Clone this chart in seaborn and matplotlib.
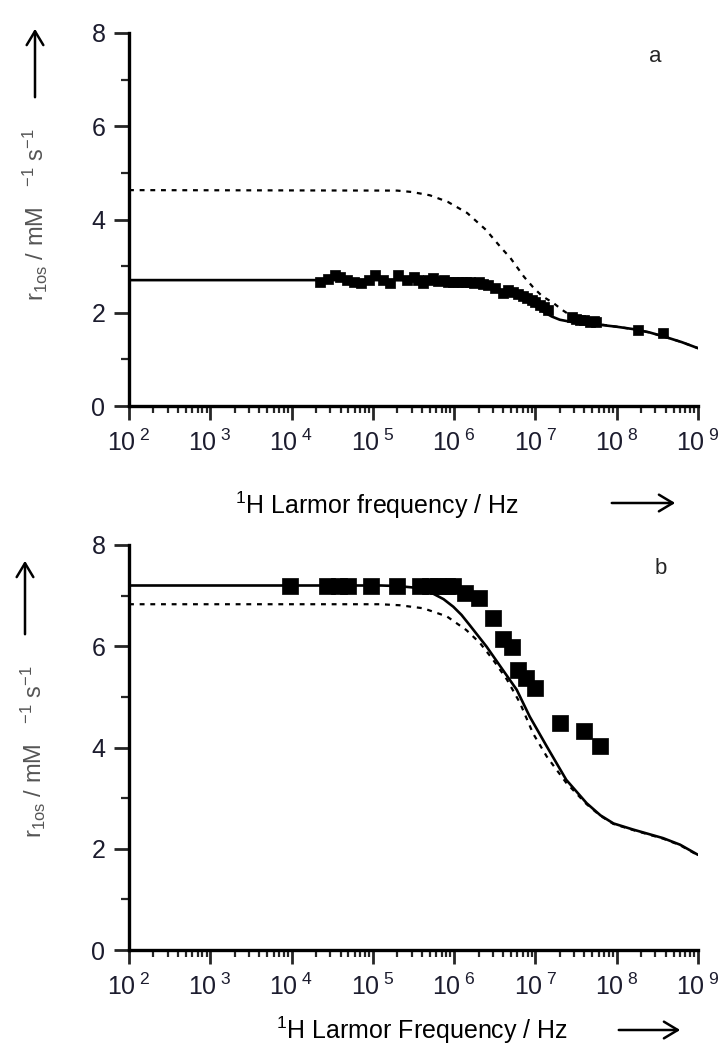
import numpy as np
import matplotlib
matplotlib.use("Agg")
import matplotlib.pyplot as plt
import matplotlib.ticker as mticker
import seaborn as sns

sns.set_style("ticks")
plt.rcParams["font.family"] = ["Liberation Sans", "DejaVu Sans"]
plt.rcParams["mathtext.fontset"] = "custom"
plt.rcParams["mathtext.rm"] = "Liberation Sans"
plt.rcParams["mathtext.it"] = "Liberation Sans"

# --- panel a: log10(frequency / Hz) and r1os (mM-1 s-1) ---
a_fit_logf = [2.0, 5.0, 6.1, 6.25, 6.35, 6.5, 6.7, 6.85, 7.0, 7.1, 7.2, 7.3,
              7.45, 7.6, 7.8, 8.0, 8.2, 8.4, 8.6, 8.8, 9.0]
a_fit_r = [2.70, 2.70, 2.69, 2.67, 2.63, 2.53, 2.40, 2.30, 2.14, 2.02, 1.92,
           1.85, 1.80, 1.77, 1.74, 1.70, 1.65, 1.58, 1.48, 1.37, 1.24]
a_sim_logf = [2.0, 5.3, 5.48, 5.7, 5.92, 6.16, 6.39, 6.59, 6.69, 6.86, 6.97,
              7.08, 7.22, 7.33, 7.45, 7.6, 7.8, 8.0, 8.2, 8.4, 8.6, 8.8, 9.0]
a_sim_r = [4.63, 4.62, 4.59, 4.52, 4.38, 4.14, 3.78, 3.37, 3.18, 2.77, 2.55,
           2.36, 2.21, 2.06, 1.92, 1.80, 1.75, 1.70, 1.65, 1.58, 1.48, 1.37, 1.24]
a_pts_logf = [4.35, 4.45, 4.53, 4.60, 4.68, 4.77, 4.86, 4.95, 5.03, 5.13, 5.21,
              5.31, 5.42, 5.50, 5.56, 5.62, 5.68, 5.74, 5.80, 5.87, 5.93, 5.99,
              6.05, 6.10, 6.15, 6.20, 6.25, 6.30, 6.35, 6.42, 6.50, 6.60, 6.66,
              6.72, 6.78, 6.85, 6.90, 6.96, 7.00, 7.06, 7.11, 7.16, 7.45, 7.50,
              7.55, 7.60, 7.67, 7.72, 7.75, 8.26, 8.57]
a_pts_r = [2.67, 2.72, 2.81, 2.76, 2.70, 2.66, 2.63, 2.70, 2.81, 2.70, 2.63,
           2.81, 2.70, 2.77, 2.70, 2.63, 2.70, 2.74, 2.68, 2.70, 2.66, 2.67,
           2.66, 2.67, 2.65, 2.66, 2.64, 2.66, 2.62, 2.60, 2.53, 2.42, 2.48,
           2.45, 2.40, 2.36, 2.32, 2.27, 2.24, 2.17, 2.12, 2.06, 1.91, 1.87,
           1.85, 1.84, 1.80, 1.82, 1.80, 1.63, 1.57]

# --- panel b ---
b_fit_logf = [2.0, 5.1, 5.3, 5.5, 5.62, 5.74, 5.87, 5.99, 6.09, 6.19, 6.40,
              6.60, 6.77, 6.93, 7.14, 7.38, 7.63, 7.80, 7.96, 8.20, 8.57, 8.78, 9.0]
b_fit_r = [7.20, 7.20, 7.19, 7.16, 7.11, 7.04, 6.93, 6.78, 6.62, 6.42, 5.99,
           5.53, 5.14, 4.61, 4.02, 3.36, 2.90, 2.66, 2.50, 2.38, 2.21, 2.08, 1.88]
b_sim_logf = [2.0, 5.09, 5.33, 5.62, 5.91, 6.15, 6.32, 6.48, 6.65, 6.81, 6.97,
              7.14, 7.38, 7.63, 7.80, 7.96, 8.20, 8.57, 8.78, 9.0]
b_sim_r = [6.83, 6.83, 6.81, 6.75, 6.59, 6.32, 6.06, 5.73, 5.34, 4.88, 4.28,
           3.82, 3.30, 2.88, 2.65, 2.49, 2.37, 2.20, 2.07, 1.87]
b_pts_logf = [3.98, 4.44, 4.58, 4.69, 4.98, 5.30, 5.58, 5.70, 5.80, 5.91, 5.99,
              6.13, 6.30, 6.48, 6.60, 6.71, 6.79, 6.89, 6.99, 7.30, 7.60, 7.79]
b_pts_r = [7.20, 7.20, 7.20, 7.20, 7.20, 7.20, 7.20, 7.20, 7.20, 7.20, 7.20,
           7.05, 6.95, 6.55, 6.14, 5.98, 5.53, 5.37, 5.17, 4.49, 4.33, 4.02]

x_ticks = [1e2, 1e3, 1e4, 1e5, 1e6, 1e7, 1e8, 1e9]
x_ticklabels = [r"$\mathregular{10^{\ %d}}$" % k for k in range(2, 10)]
y_ticks = [0, 2, 4, 6, 8]

W, H = 723, 1053
fig = plt.figure(figsize=(W / 100, H / 100), dpi=100)
ax_a = fig.add_axes([129 / W, 1 - 406 / H, 569 / W, 373 / H])
ax_b = fig.add_axes([129 / W, 1 - 950 / H, 569 / W, 405 / H])

ink = "#1c1c2e"


def draw_panel(ax, fit_lf, fit_r, sim_lf, sim_r, pts_lf, pts_r, msize):
    sns.lineplot(x=10 ** np.array(sim_lf), y=sim_r, ax=ax, color="black",
                 lw=1.6, linestyle=(0, (2.2, 2.6)), sort=False, estimator=None)
    sns.lineplot(x=10 ** np.array(fit_lf), y=fit_r, ax=ax, color="black",
                 lw=1.9, sort=False, estimator=None)
    sns.scatterplot(x=10 ** np.array(pts_lf), y=pts_r, ax=ax, marker="s",
                    s=msize, color="black", edgecolor="black", linewidth=0.5,
                    zorder=3)
    ax.set_xscale("log")
    ax.set_xlim(1e2, 1e9)
    ax.set_ylim(0, 8)
    ax.set_xticks(x_ticks)
    ax.set_xticklabels(x_ticklabels)
    ax.xaxis.set_minor_locator(mticker.LogLocator(base=10, subs=np.arange(2, 10), numticks=20))
    ax.xaxis.set_minor_formatter(mticker.NullFormatter())
    ax.set_yticks(y_ticks)
    ax.yaxis.set_minor_locator(mticker.MultipleLocator(1))
    sns.despine(ax=ax)
    for s in ["left", "bottom"]:
        ax.spines[s].set_linewidth(2.4)
        ax.spines[s].set_color("black")
    ax.tick_params(axis="x", which="major", direction="out", length=10, width=2,
                   pad=7, labelsize=18, labelcolor=ink)
    ax.tick_params(axis="x", which="minor", direction="out", length=5, width=1.6)
    ax.tick_params(axis="y", which="major", direction="out", length=11, width=2,
                   pad=6, labelsize=18, labelcolor=ink)
    ax.tick_params(axis="y", which="minor", direction="out", length=6, width=1.6)
    ax.set_xlabel("")
    ax.set_ylabel("")


draw_panel(ax_a, a_fit_logf, a_fit_r, a_sim_logf, a_sim_r, a_pts_logf, a_pts_r, 48)
draw_panel(ax_b, b_fit_logf, b_fit_r, b_sim_logf, b_sim_r, b_pts_logf, b_pts_r, 140)


def fx(px):
    return px / W


def fy(py):
    return 1 - py / H


ylab = r"r$_{\mathregular{1os}}$ / mM   $^{-1}$ s$^{-1}$"
fig.text(fx(35), fy(215), ylab, rotation=90, ha="center", va="center",
         fontsize=17, color="#555555")
fig.text(fx(33), fy(752), ylab, rotation=90, ha="center", va="center",
         fontsize=17, color="#555555")

fig.text(fx(377), fy(505), r"$^{1}$H Larmor frequency / Hz", ha="center",
         va="center", fontsize=18, color="black")
fig.text(fx(422), fy(1030), r"$^{1}$H Larmor Frequency / Hz", ha="center",
         va="center", fontsize=18, color="black")

arrow = dict(arrowstyle="->,head_length=0.5,head_width=0.3", color="black",
             lw=1.8, mutation_scale=20)
fig.add_artist(plt.Annotation("", xy=(fx(678), fy(503)), xytext=(fx(609), fy(503)),
                              xycoords="figure fraction", arrowprops=arrow))
fig.add_artist(plt.Annotation("", xy=(fx(683), fy(1030)), xytext=(fx(616), fy(1030)),
                              xycoords="figure fraction", arrowprops=arrow))
fig.add_artist(plt.Annotation("", xy=(fx(35), fy(26)), xytext=(fx(35), fy(100)),
                              xycoords="figure fraction", arrowprops=arrow))
fig.add_artist(plt.Annotation("", xy=(fx(25), fy(558)), xytext=(fx(25), fy(637)),
                              xycoords="figure fraction", arrowprops=arrow))

fig.text(fx(655), fy(57), "a", ha="center", va="center", fontsize=16)
fig.text(fx(661), fy(569), "b", ha="center", va="center", fontsize=16)

fig.savefig("out.png", dpi=100)
